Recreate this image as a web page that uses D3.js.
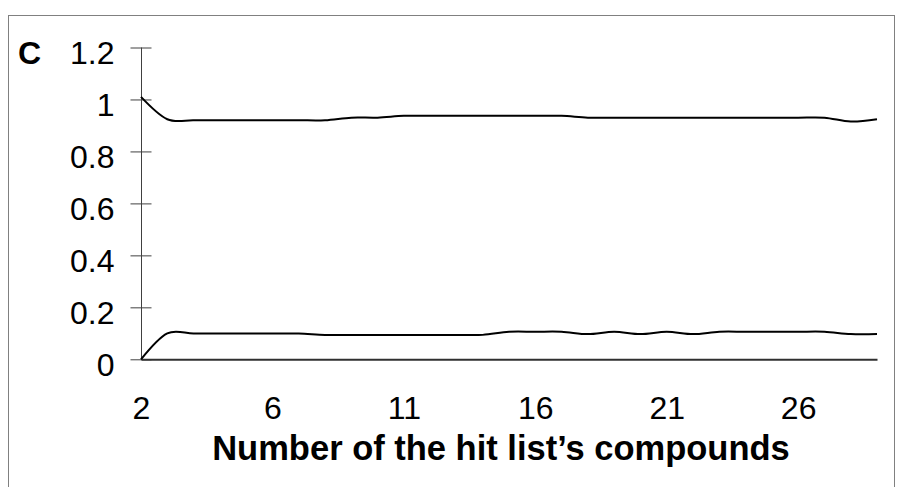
<!DOCTYPE html>
<html>
<head>
<meta charset="utf-8">
<script src="https://cdn.jsdelivr.net/npm/d3@7/dist/d3.min.js"></script>
<style>
html,body{margin:0;padding:0;background:#fff;}
svg{display:block;}
text{font-family:"Liberation Sans",Arial,sans-serif;fill:#000;}
</style>
</head>
<body>
<svg id="chart" width="897" height="487"></svg>
<script>
// ---- data ----
const categoryIndex = [0,1,2,3,4,5,6,7,8,9,10,11,12,13,14,15,16,17,18,19,20,21,22,23,24,25,26,27,28];
const upperSeries = [1.01,0.924,0.92,0.92,0.92,0.92,0.92,0.92,0.93,0.93,0.937,0.937,0.937,0.937,0.937,0.937,0.937,0.93,0.93,0.93,0.93,0.93,0.93,0.93,0.93,0.93,0.93,0.915,0.924];
const lowerSeries = [0,0.1,0.099,0.099,0.099,0.099,0.099,0.094,0.094,0.094,0.094,0.094,0.094,0.094,0.106,0.106,0.106,0.097,0.106,0.097,0.106,0.097,0.106,0.106,0.106,0.106,0.106,0.097,0.097];
const xTickIndex = [0,5,10,15,20,25];
const xTickLabels = ["2","6","11","16","21","26"];
const yTickValues = [0,0.2,0.4,0.6,0.8,1,1.2];
const yTickLabels = ["0","0.2","0.4","0.6","0.8","1","1.2"];
const panelLabel = "C";
const xTitle = "Number of the hit list\u2019s compounds";

// ---- layout ----
const svg = d3.select("#chart");
const plot = {left:141, right:877, top:47.5, bottom:359.3};

svg.append("rect")
  .attr("x",8.5).attr("y",15.5).attr("width",886).attr("height",480)
  .attr("fill","none").attr("stroke","#808080").attr("stroke-width",1);

const x = d3.scaleLinear().domain([0,28]).range([plot.left, plot.right]);
const y = d3.scaleLinear().domain([0,1.2]).range([plot.bottom, plot.top]);

// y axis
const yAxis = svg.append("g")
  .attr("transform",`translate(${plot.left},0)`)
  .call(d3.axisLeft(y).tickValues(yTickValues)
        .tickFormat((d,i)=>yTickLabels[i]).tickSizeOuter(0).tickSizeInner(10));
yAxis.select(".domain").attr("stroke","#404040").attr("stroke-width",1)
  .attr("d",`M0.5,${y(1.2)}V${y(0)}`);
yAxis.selectAll(".tick line").attr("x1",-10.5).attr("x2",10.5)
  .attr("stroke","#404040").attr("stroke-width",1);
yAxis.selectAll(".tick text")
  .attr("x",114.5-plot.left).attr("dy",null).attr("y",16)
  .attr("text-anchor","end").style("font-size","32px").attr("fill","#000");
yAxis.attr("font-family",null).attr("font-size",null);

// x axis
const xAxis = svg.append("g")
  .attr("transform",`translate(0,${plot.bottom})`)
  .call(d3.axisBottom(x).tickValues(xTickIndex)
        .tickFormat((d,i)=>xTickLabels[i]).tickSize(0));
xAxis.select(".domain").attr("stroke","#303030").attr("stroke-width",2);
xAxis.selectAll(".tick text")
  .attr("y",60).attr("dy",null).style("font-size","32px").attr("fill","#000");
xAxis.attr("font-family",null).attr("font-size",null);

// lines
const line = d3.line()
  .x((d,i)=>x(categoryIndex[i]))
  .y(d=>y(d))
  .curve(d3.curveCatmullRom.alpha(0));

[upperSeries, lowerSeries].forEach(s=>{
  svg.append("path").datum(s)
    .attr("d",line).attr("fill","none")
    .attr("stroke","#000").attr("stroke-width",2);
});

// labels
svg.append("text").attr("x",18).attr("y",64)
  .style("font-size","32px").style("font-weight","bold").text(panelLabel);

svg.append("text").attr("x",501).attr("y",460).attr("text-anchor","middle")
  .style("font-size","34.5px").style("font-weight","bold").text(xTitle);
</script>
</body>
</html>
